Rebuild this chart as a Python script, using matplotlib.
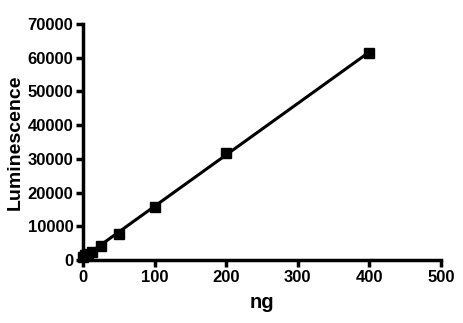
import numpy as np
import matplotlib
matplotlib.use("Agg")
import matplotlib.pyplot as plt

plt.rcParams['font.family'] = ['Liberation Sans', 'DejaVu Sans']
plt.rcParams['font.weight'] = 'bold'

ng = [0, 3.125, 6.25, 12.5, 25, 50, 100, 200, 400]
lum = [900, 1500, 1900, 2400, 4200, 7800, 15800, 31700, 61500]

fig = plt.figure(figsize=(4.64, 3.23), dpi=100)
ax = fig.add_axes([0.179, 0.195, 0.771, 0.731])

slope, intercept = np.polyfit(ng, lum, 1)
xf = np.array([min(ng), max(ng)])
ax.plot(xf, slope * xf + intercept, color='black', lw=2.2)
ax.plot(ng, lum, 's', color='black', markersize=6.5, clip_on=False)

ax.set_xlim(0, 500)
ax.set_ylim(0, 70000)
ax.set_xticks(range(0, 501, 100))
ax.set_yticks(range(0, 70001, 10000))
for s in ['top', 'right']:
    ax.spines[s].set_visible(False)
for s in ['left', 'bottom']:
    ax.spines[s].set_linewidth(2.5)
ax.tick_params(width=2.5, length=5, labelsize=12, pad=2)
ax.set_xlabel('ng', fontsize=14.5, fontweight='bold', labelpad=6)
ax.set_ylabel('Luminescence', fontsize=14, fontweight='bold', labelpad=3)

fig.savefig('out.png', dpi=100)
